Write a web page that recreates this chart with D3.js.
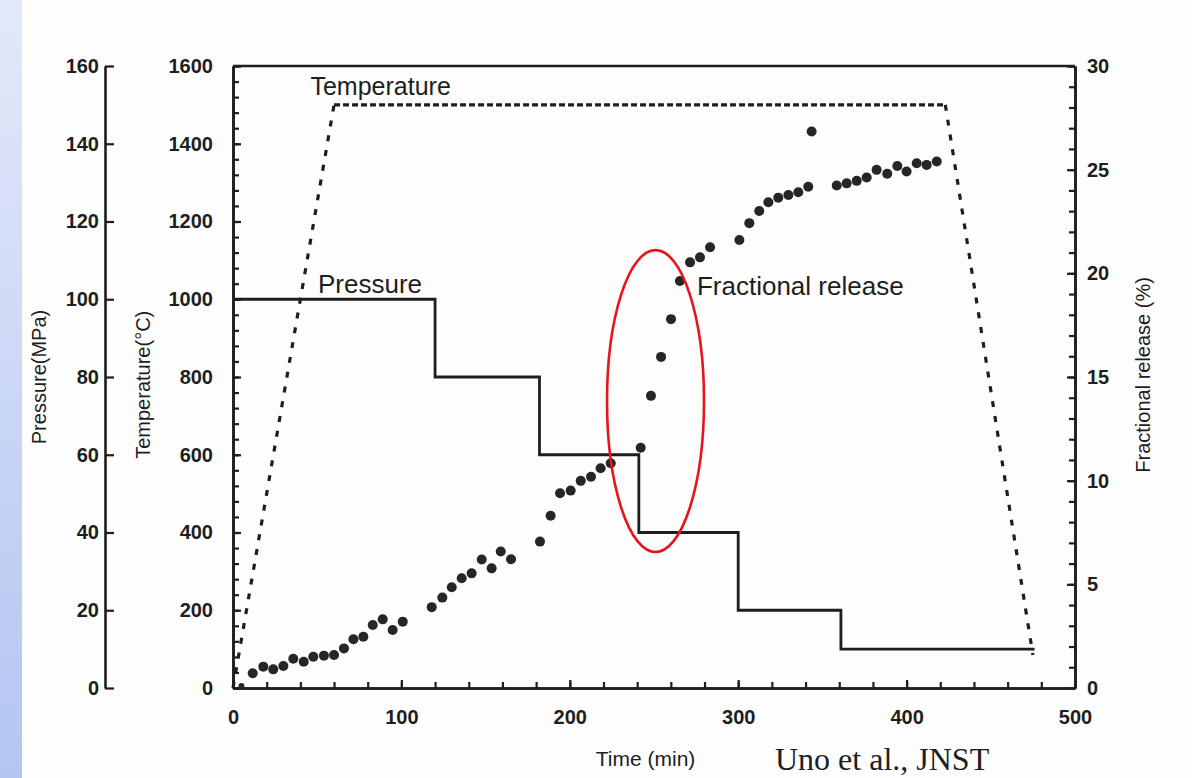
<!DOCTYPE html>
<html>
<head>
<meta charset="utf-8">
<script src="https://cdn.jsdelivr.net/npm/d3@7"></script>
<style>
  html, body { margin: 0; padding: 0; background: #fdfdfd; }
  svg { display: block; }
  text { font-family: "Liberation Sans", Arial, sans-serif; fill: #1e1e1e; }
</style>
</head>
<body>
<svg id="chart" width="1192" height="778"></svg>
<script>
// time (min) / value pairs
var pressureTime = [0, 120, 182, 241, 300, 361, 476];
var pressureVal  = [100, 80, 60, 40, 20, 10, 10];

var tempTime = [0, 60, 423, 475];
var tempVal  = [0, 1500, 1500, 85];

var releaseTime = [5, 11.7, 18, 23.9, 29.9, 35.8, 42, 47.7, 54, 60, 65.9, 71.5, 77.4, 83, 88.9, 94.8, 100.8,
  118, 124.3, 129.9, 135.8, 141.7, 147.7, 153.6, 159, 165.1, 182.3, 188.6, 194.2, 200.5, 206.5, 212.6, 218.3, 224.3,
  242.1, 248.2, 254.2, 260.1, 265.4, 271.4, 277.3, 283.3, 300.7, 306.6, 312.5, 317.9, 323.8, 329.8, 335.7, 341.6,
  343.6, 358.5, 364.4, 370.4, 376.3, 382.2, 388.5, 394.5, 400, 406, 411.9, 417.9];
var releaseVal = [0.1, 0.71, 1.03, 0.9, 1.06, 1.41, 1.27, 1.51, 1.56, 1.59, 1.91, 2.35, 2.47, 3.04, 3.31, 2.8, 3.2,
  3.9, 4.36, 4.86, 5.29, 5.53, 6.2, 5.77, 6.58, 6.21, 7.06, 8.31, 9.39, 9.52, 9.99, 10.19, 10.6, 10.84,
  11.59, 14.09, 15.97, 17.79, 19.63, 20.53, 20.77, 21.26, 21.61, 22.42, 23.01, 23.43, 23.65, 23.78, 23.91, 24.18,
  26.84, 24.24, 24.34, 24.46, 24.62, 24.99, 24.8, 25.18, 24.91, 25.31, 25.23, 25.39];

var timeTicks = [0, 100, 200, 300, 400, 500];
var pressureTicks = [0, 20, 40, 60, 80, 100, 120, 140, 160];
var tempTicks = [0, 200, 400, 600, 800, 1000, 1200, 1400, 1600];
var releaseTicks = [0, 5, 10, 15, 20, 25, 30];

// highlighted region (centre time, centre %, half-width min, half-height %)
var highlight = [250.9, 13.84, 28.8, 7.28];

var svg = d3.select("#chart");
var ink = "#1e1e1e";
var fmt = d3.format("d");

var x = d3.scaleLinear().domain([0, 500]).range([233, 1075]);
var yP = d3.scaleLinear().domain([0, 160]).range([688, 66]);
var yT = d3.scaleLinear().domain([0, 1600]).range([688, 66]);
var yF = d3.scaleLinear().domain([0, 30]).range([688, 66]);

// blue strip on the left edge of the slide
var grad = svg.append("defs").append("linearGradient")
  .attr("id", "strip").attr("x1", 0).attr("y1", 0).attr("x2", 0).attr("y2", 1);
grad.append("stop").attr("offset", "0%").attr("stop-color", "#e3e9f9");
grad.append("stop").attr("offset", "100%").attr("stop-color", "#b3c5f2");
svg.append("rect").attr("x", 0).attr("y", 0).attr("width", 22).attr("height", 778).attr("fill", "url(#strip)");

var styleAxis = function(g) {
  g.select(".domain").attr("stroke", ink).attr("stroke-width", 2.6);
  g.selectAll(".tick line").attr("stroke", ink).attr("stroke-width", 2.2);
  g.selectAll(".tick text").attr("font-size", 20).attr("font-weight", "bold").attr("fill", ink)
    .style("font-family", "'Liberation Sans', Arial, sans-serif");
};

// pressure axis (outer left)
svg.append("g").attr("transform", "translate(105,0)")
  .call(d3.axisLeft(yP).tickValues(pressureTicks).tickFormat(fmt).tickSizeInner(-9).tickSizeOuter(0).tickPadding(6))
  .call(styleAxis);

// temperature axis
svg.append("g").attr("transform", "translate(233,0)")
  .call(d3.axisLeft(yT).tickValues(d3.range(0, 1601, 40)).tickFormat("").tickSizeInner(-6).tickSizeOuter(0))
  .call(styleAxis);
svg.append("g").attr("transform", "translate(233,0)")
  .call(d3.axisLeft(yT).tickValues(tempTicks).tickFormat(fmt).tickSizeInner(-8).tickSizeOuter(0).tickPadding(20))
  .call(styleAxis);

// fractional release axis (right)
svg.append("g").attr("transform", "translate(1075,0)")
  .call(d3.axisRight(yF).tickValues(d3.range(0, 31, 1)).tickFormat("").tickSizeInner(-6).tickSizeOuter(0))
  .call(styleAxis);
svg.append("g").attr("transform", "translate(1075,0)")
  .call(d3.axisRight(yF).tickValues(releaseTicks).tickFormat(fmt).tickSizeInner(-8).tickSizeOuter(0).tickPadding(12))
  .call(styleAxis);

// time axis
svg.append("g").attr("transform", "translate(0,688)")
  .call(d3.axisBottom(x).tickValues(d3.range(0, 501, 20)).tickFormat("").tickSizeInner(-6).tickSizeOuter(0))
  .call(styleAxis);
svg.append("g").attr("transform", "translate(0,688)")
  .call(d3.axisBottom(x).tickValues(timeTicks).tickFormat(fmt).tickSizeInner(-8).tickSizeOuter(0).tickPadding(22))
  .call(styleAxis);

// top border
svg.append("line").attr("x1", x(0)).attr("x2", x(500)).attr("y1", yT(1600)).attr("y2", yT(1600))
  .attr("stroke", ink).attr("stroke-width", 2.6);

// temperature: dotted, denser along the plateau
d3.pairs(d3.zip(tempTime, tempVal)).forEach(function(p) {
  var flat = p[0][1] === p[1][1];
  svg.append("line")
    .attr("x1", x(p[0][0])).attr("y1", yT(p[0][1]))
    .attr("x2", x(p[1][0])).attr("y2", yT(p[1][1]))
    .attr("stroke", ink).attr("stroke-width", 3.2)
    .attr("stroke-dasharray", flat ? "6,3" : "6,9");
});

// pressure steps
var pLine = d3.line().curve(d3.curveStepAfter)
  .x(function(d) { return x(d[0]); })
  .y(function(d) { return yP(d[1]); });
svg.append("path").datum(d3.zip(pressureTime, pressureVal))
  .attr("d", pLine).attr("fill", "none").attr("stroke", ink).attr("stroke-width", 2.8);

// fractional release points
svg.selectAll("circle.rel").data(d3.zip(releaseTime, releaseVal)).enter()
  .append("circle").attr("class", "rel")
  .attr("cx", function(d) { return x(d[0]); })
  .attr("cy", function(d) { return yF(d[1]); })
  .attr("r", function(d, i) { return i === 0 ? 3 : 5; })
  .attr("fill", "#262626");

// series labels
svg.append("text").attr("x", x(46)).attr("y", yT(1525)).attr("font-size", 25).text("Temperature");
svg.append("text").attr("x", x(50.5)).attr("y", yP(101.6)).attr("font-size", 26).text("Pressure");
svg.append("text").attr("x", x(275.5)).attr("y", yF(18.96)).attr("font-size", 26).text("Fractional release");

// axis titles
svg.append("text").attr("transform", "translate(46," + yP(80) + ") rotate(-90)")
  .attr("text-anchor", "middle").attr("font-size", 20).text("Pressure(MPa)");
svg.append("text").attr("transform", "translate(150," + yT(780) + ") rotate(-90)")
  .attr("text-anchor", "middle").attr("font-size", 20).text("Temperature(°C)");
svg.append("text").attr("transform", "translate(1150," + yF(15.1) + ") rotate(-90)")
  .attr("text-anchor", "middle").attr("font-size", 20).text("Fractional release (%)");
svg.append("text").attr("x", x(245)).attr("y", 766)
  .attr("text-anchor", "middle").attr("font-size", 21).text("Time (min)");

// red ellipse marking the burst
svg.append("ellipse")
  .attr("cx", x(highlight[0])).attr("cy", yF(highlight[1]))
  .attr("rx", x(highlight[0] + highlight[2]) - x(highlight[0]))
  .attr("ry", yF(highlight[1] - highlight[3]) - yF(highlight[1]))
  .attr("fill", "none").attr("stroke", "#e8141c").attr("stroke-width", 2.6);

// citation at the bottom of the slide
svg.append("text").attr("x", 775).attr("y", 770).attr("font-size", 32)
  .style("font-family", "'Liberation Serif', 'Times New Roman', serif").text("Uno et al., JNST");
</script>
</body>
</html>
